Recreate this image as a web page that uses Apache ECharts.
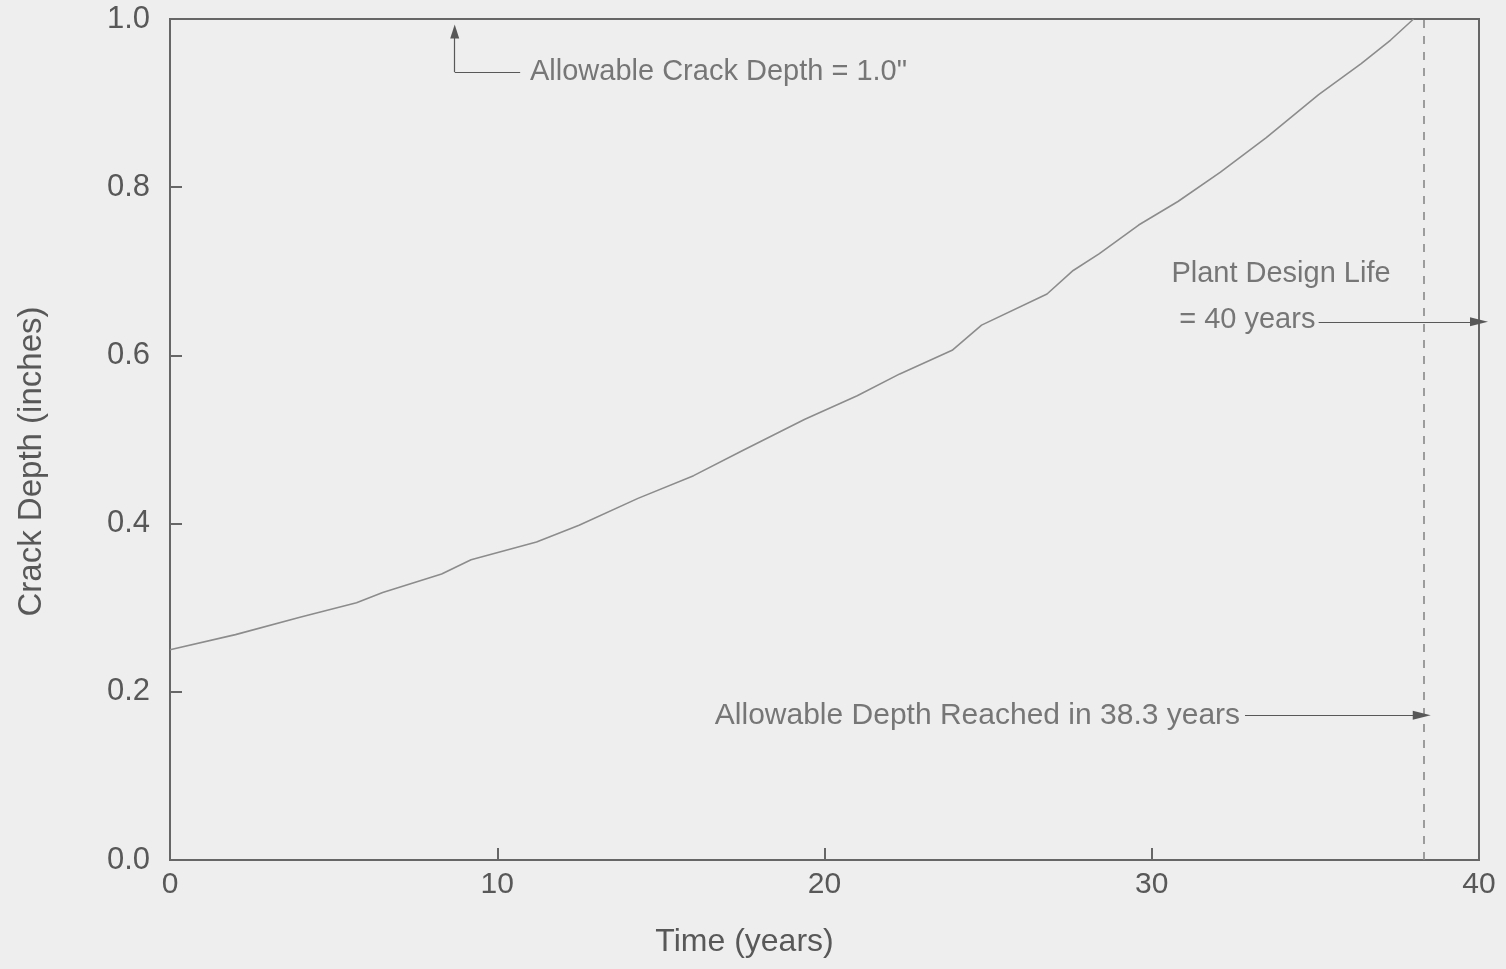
<!DOCTYPE html>
<html>
<head>
<meta charset="utf-8">
<script src="https://cdn.jsdelivr.net/npm/echarts@6/dist/echarts.min.js"></script>
<style>
  html, body { margin: 0; padding: 0; background: #eeeeee; }
  #chart { width: 1506px; height: 969px; }
</style>
</head>
<body>
<div id="chart"></div>
<script>
// Crack growth: depth (inches) versus service time (years)
const years  = [0, 2, 4, 5.7, 6.5, 8.3, 9.2, 11.2, 12.5, 14.3, 16, 17.5, 19.4, 21, 22.3, 23.9, 24.8, 26.8, 27.6, 28.4, 29.6, 30.8, 32.1, 33.5, 35.1, 36.4, 37.3, 38.0];
const depths = [0.25, 0.268, 0.289, 0.306, 0.318, 0.340, 0.357, 0.378, 0.398, 0.430, 0.457, 0.487, 0.524, 0.552, 0.578, 0.606, 0.636, 0.673, 0.701, 0.721, 0.755, 0.783, 0.818, 0.859, 0.910, 0.947, 0.975, 1.0];

const xTicks = [0, 10, 20, 30, 40];
const yTicks = [0.0, 0.2, 0.4, 0.6, 0.8, 1.0];

const allowableDepth = 1.0;   // inches
const reachedYear = 38.3;     // years
const designLife = 40;        // years

const ink = '#585858';
const curveInk = '#8c8c8c';
const font = '"Liberation Sans", Arial, sans-serif';

const chart = echarts.init(document.getElementById('chart'));

// invisible anchor points that carry the annotation texts
function note(x, y, text, pos, size) {
  return {
    value: [x, y],
    label: {
      show: true, position: pos, formatter: text, distance: 0,
      color: ink, fontFamily: font, fontSize: size
    }
  };
}

chart.setOption({
  backgroundColor: '#eeeeee',
  animation: false,
  grid: {
    left: 170, right: 27, top: 19, bottom: 109,
    show: true, borderColor: '#666', borderWidth: 2, backgroundColor: 'transparent'
  },
  xAxis: {
    type: 'value', min: xTicks[0], max: xTicks[xTicks.length - 1], interval: 10,
    name: 'Time (years)', nameLocation: 'middle', nameGap: 66,
    nameTextStyle: { color: ink, fontFamily: font, fontSize: 32, padding: [0, 160, 0, 0] },
    axisLine: { show: true, lineStyle: { color: '#666', width: 2 } },
    axisTick: { show: true, inside: true, length: 12, lineStyle: { color: '#666', width: 2 } },
    axisLabel: { color: ink, fontFamily: font, fontSize: 30, margin: 10 },
    splitLine: { show: false }
  },
  yAxis: {
    type: 'value', min: yTicks[0], max: yTicks[yTicks.length - 1], interval: 0.2,
    name: 'Crack Depth (inches)', nameLocation: 'middle', nameGap: 122,
    nameTextStyle: { color: ink, fontFamily: font, fontSize: 33, padding: [0, 44, 0, 0] },
    axisLine: { show: true, lineStyle: { color: '#666', width: 2 } },
    axisTick: { show: true, inside: true, length: 12, lineStyle: { color: '#666', width: 2 } },
    axisLabel: { color: ink, fontFamily: font, fontSize: 31, margin: 20,
                 formatter: v => v.toFixed(1) },
    splitLine: { show: false }
  },
  series: [
    {
      type: 'line',
      data: years.map((t, i) => [t, depths[i]]),
      showSymbol: false,
      lineStyle: { color: curveInk, width: 1.6 },
      z: 3,
      markLine: {
        silent: true,
        label: { show: false },
        data: [
          // 38.3-year limit
          [
            { coord: [reachedYear, 0], symbol: 'none', lineStyle: { type: [8, 8], color: '#888', width: 1.6 } },
            { coord: [reachedYear, allowableDepth], symbol: 'none' }
          ],
          // leader to the allowable depth line
          [
            { coord: [8.7, 0.937], symbol: 'none', lineStyle: { color: ink, width: 1.2, type: 'solid' } },
            { coord: [8.7, 0.985], symbol: 'triangle', symbolSize: [9, 14], symbolRotate: 0 }
          ],
          [
            { coord: [8.7, 0.937], symbol: 'none', lineStyle: { color: ink, width: 1.2, type: 'solid' } },
            { coord: [10.7, 0.937], symbol: 'none' }
          ],
          // design life arrow
          [
            { coord: [35.1, 0.64], symbol: 'none', lineStyle: { color: ink, width: 1.2, type: 'solid' } },
            { coord: [designLife, 0.64], symbol: 'triangle', symbolSize: [9, 18] }
          ],
          // depth reached arrow
          [
            { coord: [32.85, 0.172], symbol: 'none', lineStyle: { color: ink, width: 1.2, type: 'solid' } },
            { coord: [reachedYear - 0.05, 0.172], symbol: 'triangle', symbolSize: [9, 18] }
          ]
        ]
      }
    },
    {
      type: 'scatter',
      symbolSize: 0,
      silent: true,
      z: 4,
      data: [
        note(11.0, 0.937, 'Allowable Crack Depth = 1.0"', 'right', 29),
        note(30.6, 0.697, 'Plant Design Life', 'right', 29),
        note(35.0, 0.642, '= 40 years', 'left', 29),
        note(32.7, 0.172, 'Allowable Depth Reached in 38.3 years', 'left', 30)
      ]
    }
  ]
});
</script>
</body>
</html>
